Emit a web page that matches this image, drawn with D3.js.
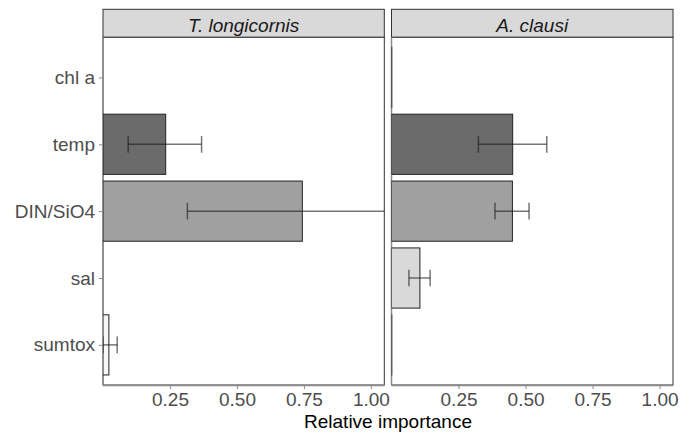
<!DOCTYPE html>
<html>
<head>
<meta charset="utf-8">
<script src="https://cdn.jsdelivr.net/npm/d3@7"></script>
<style>
  body { margin: 0; background: #fff; }
  svg { font-family: "Liberation Sans", Arial, sans-serif; }
</style>
</head>
<body>
<svg id="chart" width="688" height="433"></svg>
<script>
// predictors, top to bottom
const vars = ['chl a', 'temp', 'DIN/SiO4', 'sal', 'sumtox'];
const species = ['T. longicornis', 'A. clausi'];
const fills = ['#333333', '#6b6b6b', '#a0a0a0', '#d9d9d9', '#f7f7f7'];

// relative importance, one array per species (null = not drawn)
const tlongMean = [null, 0.234, 0.744, null, 0.022];
const tlongLo   = [null, 0.094, 0.315, null, 0.000];
const tlongHi   = [null, 0.368, 1.170, null, 0.053];

const aclausiMean = [0.001, 0.452, 0.451, 0.106, 0.001];
const aclausiLo   = [null, 0.324, 0.386, 0.065, null];
const aclausiHi   = [null, 0.579, 0.513, 0.144, null];

const xTicks = [0.25, 0.5, 0.75, 1.0];

const series = [
  {name: species[0], mean: tlongMean, lo: tlongLo, hi: tlongHi},
  {name: species[1], mean: aclausiMean, lo: aclausiLo, hi: aclausiHi}
];

const svg = d3.select('#chart');
const panelTop = 37.3, panelBottom = 385, stripTop = 9.3;
const panels = [[103, 384.3], [391.5, 673]];

const y = d3.scalePoint().domain(vars).range([panelTop, panelBottom]).padding(0.6);
const bw = y.step() * 0.9;
const capH = y.step() * 0.25;

series.forEach((s, i) => {
  const [x0, x1] = panels[i];
  const x = d3.scaleLinear().domain([0, 1.05]).range([x0, x1]);
  const g = svg.append('g');

  // strip
  g.append('rect')
    .attr('x', x0).attr('y', stripTop)
    .attr('width', x1 - x0).attr('height', panelTop - stripTop)
    .attr('fill', '#d9d9d9').attr('stroke', '#333').attr('stroke-width', 1);
  g.append('text')
    .attr('x', (x0 + x1) / 2).attr('y', 31.5)
    .attr('text-anchor', 'middle')
    .attr('font-size', 19).attr('font-style', 'italic')
    .attr('fill', '#1a1a1a')
    .text(s.name);

  // panel border
  g.append('rect')
    .attr('x', x0).attr('y', panelTop)
    .attr('width', x1 - x0).attr('height', panelBottom - panelTop)
    .attr('fill', '#fff').attr('stroke', '#333').attr('stroke-width', 1);

  // x axis
  const xa = g.append('g')
    .attr('transform', `translate(0,${panelBottom})`)
    .call(d3.axisBottom(x).tickValues(xTicks).tickFormat(d3.format('.2f')).tickSize(4).tickPadding(4));
  xa.select('.domain').attr('stroke', '#8c8c8c').attr('stroke-width', 1.5)
    .attr('d', `M${x0},0.5H${x1}`);
  xa.selectAll('.tick line').attr('stroke', '#8c8c8c');
  xa.selectAll('.tick text').attr('font-size', 19).attr('fill', '#4d4d4d')
    .attr('font-family', '"Liberation Sans", Arial, sans-serif');

  // y axis (left line both panels, labels on the first)
  const ya = g.append('g')
    .attr('transform', `translate(${x0},0)`)
    .call(d3.axisLeft(y).tickSize(i === 0 ? 4 : 0).tickPadding(4));
  ya.select('.domain').attr('stroke', '#8c8c8c').attr('stroke-width', 1.5)
    .attr('d', `M0,${panelTop}V${panelBottom}`);
  ya.selectAll('.tick line').attr('stroke', '#8c8c8c');
  ya.selectAll('.tick text')
    .attr('font-size', 19).attr('fill', '#4d4d4d')
    .attr('font-family', '"Liberation Sans", Arial, sans-serif')
    .style('display', i === 0 ? null : 'none');

  const clipId = 'clip' + i;
  svg.append('clipPath').attr('id', clipId)
    .append('rect').attr('x', x0).attr('y', panelTop).attr('width', x1 - x0).attr('height', panelBottom - panelTop);

  const rows = vars.map((v, j) => ({v, j, m: s.mean[j], lo: s.lo[j], hi: s.hi[j]}));
  const plot = g.append('g').attr('clip-path', `url(#${clipId})`);

  plot.selectAll('rect.bar')
    .data(rows.filter(d => d.m != null))
    .enter().append('rect')
    .attr('class', 'bar')
    .attr('x', x(0))
    .attr('y', d => y(d.v) - bw / 2)
    .attr('width', d => x(d.m) - x(0))
    .attr('height', bw)
    .attr('fill', d => fills[d.j])
    .attr('stroke', '#222').attr('stroke-width', 1);

  const eb = plot.selectAll('g.err')
    .data(rows.filter(d => d.lo != null))
    .enter().append('g')
    .attr('class', 'err')
    .attr('stroke', '#1a1a1a').attr('stroke-opacity', 0.6).attr('stroke-width', 1.5);
  eb.append('line')
    .attr('x1', d => x(d.lo)).attr('x2', d => x(d.hi))
    .attr('y1', d => y(d.v)).attr('y2', d => y(d.v));
  eb.append('line')
    .attr('x1', d => x(d.lo)).attr('x2', d => x(d.lo))
    .attr('y1', d => y(d.v) - capH / 2).attr('y2', d => y(d.v) + capH / 2);
  eb.append('line')
    .attr('x1', d => x(d.hi)).attr('x2', d => x(d.hi))
    .attr('y1', d => y(d.v) - capH / 2).attr('y2', d => y(d.v) + capH / 2);
});

// axis title
svg.append('text')
  .attr('x', (panels[0][0] + panels[1][1]) / 2).attr('y', 428)
  .attr('text-anchor', 'middle')
  .attr('font-size', 19).attr('fill', '#000')
  .text('Relative importance');
</script>
</body>
</html>
